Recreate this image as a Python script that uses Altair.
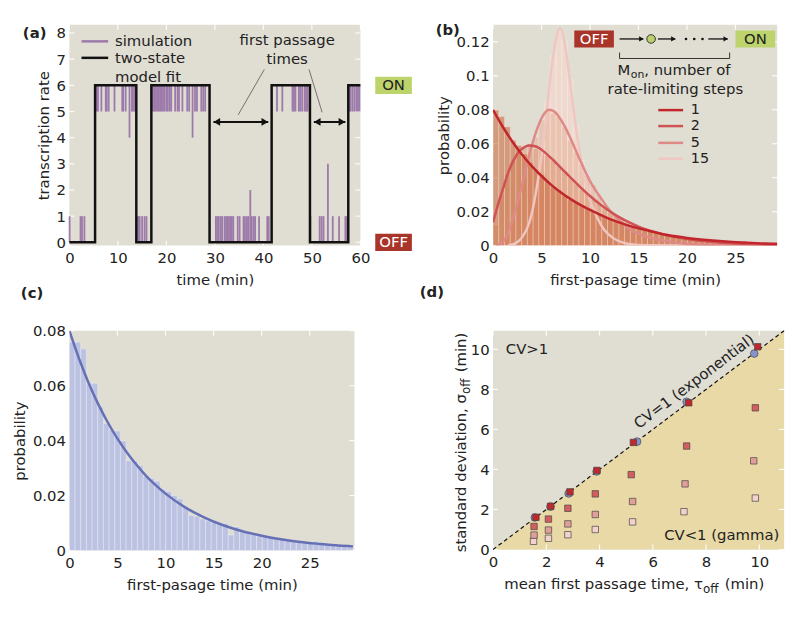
import altair as alt
import pandas as pd

FONT = "DejaVu Sans"
BG = "#e0ddd2"
INK = "#222222"
PURPLE = "#9c7aaa"
RECT = "M-1,-0.47L1,-0.47L1,0.47L-1,0.47Z"

# ---------------- panel (a) data ----------------
step_t = [0, 5.3, 13.8, 16.9, 28.9, 41.7, 49.6, 57.5, 60]
step_v = [0, 6, 0, 6, 0, 6, 0, 6, 6]
sim_on_t = [5.6, 5.9, 6.6, 7.5, 7.7, 8.1, 9.3, 10.9, 11.1, 11.6, 12.9, 13.1, 13.4,
            17.2, 17.5, 17.8, 18.1, 18.4, 18.7, 19.0, 19.3, 19.6, 20.0, 20.3, 20.7, 21.0,
            21.8, 22.3, 22.6, 23.3, 24.3, 24.7, 25.9, 26.3, 27.2, 27.6, 28.0,
            42.8, 43.9, 46.0, 46.3, 46.6, 47.3, 47.6, 48.0, 48.5, 48.8, 49.1,
            57.7, 58.0, 58.4, 58.8, 59.2, 59.5, 59.8]
sim_off_t = [0.05, 2.3, 2.6, 3.1, 13.9, 14.2, 14.5, 15.0, 15.5, 15.9,
             30.2, 30.5, 30.8, 31.2, 31.5, 32.0, 32.3, 32.6, 32.9, 33.2, 33.5, 33.8,
             34.7, 35.1, 35.9, 36.2, 36.6, 36.9, 37.6, 38.0, 38.3, 39.1, 40.8, 41.1,
             49.7, 51.6, 52.0, 52.4, 54.3, 55.6, 56.9, 57.2]
sim_tall_t = [12.4, 25.4, 37.3, 53.3]
sim_tall_lo = [4, 4, 0, 0]
sim_tall_hi = [6, 6, 2, 3]

# ---------------- panel (b) data ----------------
bin_w = 0.59
hist_m1 = [0.080, 0.076, 0.070, 0.062, 0.059, 0.054, 0.049, 0.045, 0.042, 0.038,
           0.035, 0.033, 0.030, 0.027, 0.026, 0.024, 0.022, 0.020, 0.019, 0.017,
           0.016, 0.014, 0.013, 0.012, 0.011, 0.010, 0.0094, 0.0086, 0.0080, 0.0072,
           0.0066, 0.0060, 0.0055, 0.0050, 0.0046, 0.0042, 0.0039, 0.0036, 0.0033, 0.0030,
           0.0028, 0.0026, 0.0024, 0.0022, 0.0020, 0.0019, 0.0017, 0.0016, 0.0015, 0.0014]
hist_m2 = [0.012, 0.030, 0.042, 0.050, 0.056, 0.058, 0.060, 0.057, 0.056, 0.053,
           0.051, 0.047, 0.044, 0.040, 0.037, 0.033, 0.031, 0.027, 0.025, 0.022,
           0.020, 0.018, 0.016, 0.014, 0.012, 0.011, 0.010, 0.009, 0.008, 0.007,
           0.006, 0.0055, 0.005, 0.0042, 0.0036, 0.0032, 0.0028, 0.0025, 0.0022, 0.0018,
           0.0016, 0.0014, 0.0012, 0.0010, 0.0009, 0.0008, 0.0007, 0.0006, 0.0005, 0.0004]
hist_m5 = [0.0, 0.001, 0.006, 0.016, 0.028, 0.040, 0.055, 0.064, 0.074, 0.080,
           0.078, 0.076, 0.070, 0.062, 0.055, 0.048, 0.041, 0.036, 0.030, 0.024,
           0.020, 0.016, 0.013, 0.011, 0.008, 0.007, 0.0055, 0.0045, 0.0036, 0.0028,
           0.0022, 0.0017, 0.0013, 0.0010, 0.0008, 0.0006, 0.0005, 0.0004, 0.0003, 0.0002,
           0.0002, 0.0001, 0.0001, 0.0001, 0.0, 0.0, 0.0, 0.0, 0.0, 0.0]
hist_m15 = [0.0, 0.0, 0.0, 0.001, 0.003, 0.006, 0.016, 0.032, 0.055, 0.085,
            0.112, 0.126, 0.121, 0.098, 0.071, 0.050, 0.034, 0.022, 0.014, 0.009,
            0.006, 0.0035, 0.002, 0.0012, 0.0007, 0.0004, 0.0002, 0.0001, 0.0, 0.0,
            0.0, 0.0, 0.0, 0.0, 0.0, 0.0, 0.0, 0.0, 0.0, 0.0,
            0.0, 0.0, 0.0, 0.0, 0.0, 0.0, 0.0, 0.0, 0.0, 0.0]
c1_x = [0, 1, 2, 3, 4, 5, 6, 7, 8, 9, 10, 12, 14, 16, 18, 20, 22, 24, 26, 28, 29.3]
c1_y = [0.0800, 0.0700, 0.0612, 0.0535, 0.0468, 0.0410, 0.0358, 0.0313, 0.0274, 0.0240,
        0.0210, 0.0158, 0.0118, 0.0088, 0.0062, 0.0045, 0.0033, 0.0024, 0.0018, 0.0013, 0.0011]
c2_x = [0, 0.5, 1, 1.5, 2, 2.5, 3, 3.7, 4.5, 5, 6, 7, 8, 9, 10, 11, 12, 13, 14, 15, 16, 18,
        20, 22, 25, 29.3]
c2_y = [0.0137, 0.024, 0.033, 0.042, 0.049, 0.054, 0.057, 0.0590, 0.0582, 0.0565, 0.0515,
        0.0458, 0.0400, 0.0345, 0.0292, 0.0245, 0.0204, 0.0168, 0.0138, 0.0112, 0.0091,
        0.0060, 0.0039, 0.0025, 0.0012, 0.0004]
c5_x = [0.3, 1, 1.5, 2, 2.5, 3, 3.5, 4, 4.5, 5, 5.8, 6.5, 7, 7.5, 8, 9, 10, 11, 12, 13, 14,
        15, 17, 20, 25, 29.3]
c5_y = [0.0, 0.002, 0.007, 0.015, 0.025, 0.036, 0.048, 0.059, 0.068, 0.075, 0.080, 0.078,
        0.074, 0.069, 0.063, 0.050, 0.038, 0.029, 0.021, 0.015, 0.010, 0.007, 0.0035,
        0.001, 0.0001, 0.0]
c15_x = [1.5, 2.5, 3, 3.5, 4, 4.5, 5, 5.5, 6, 6.5, 6.9, 7.3, 7.8, 8.3, 8.8, 9.5, 10, 10.7,
         11.5, 12.5, 14, 16, 20, 29.3]
c15_y = [0.0, 0.002, 0.005, 0.010, 0.019, 0.034, 0.053, 0.077, 0.103, 0.122, 0.128, 0.122,
         0.103, 0.080, 0.060, 0.038, 0.027, 0.017, 0.009, 0.004, 0.001, 0.0002, 0.0, 0.0]
mon_labels = ["1", "2", "5", "15"]
mon_colors = ["#c0262c", "#cf5255", "#df8a87", "#f0c6c1"]

# ---------------- panel (c) data ----------------
hist_c = [0.0759, 0.0759, 0.0734, 0.0609, 0.0609, 0.0522, 0.0462, 0.0440, 0.0435, 0.0399,
          0.0327, 0.0327, 0.0309, 0.0270, 0.0262, 0.0252, 0.0222, 0.0215, 0.0200, 0.0188,
          0.0160, 0.0128, 0.0125, 0.0115, 0.0108, 0.0104, 0.0096, 0.0098, 0.0056, 0.0086,
          0.0072, 0.0066, 0.0064, 0.0054, 0.0050, 0.0046, 0.0043, 0.0040, 0.0038, 0.0034,
          0.0032, 0.0030, 0.0030, 0.0034, 0.0026, 0.0024, 0.0022, 0.0020, 0.0018, 0.0016]
cc_x = [0, 1, 2, 3, 4, 5, 6, 7, 8, 9, 10, 12, 14, 16, 18, 20, 22, 24, 26, 28, 29.5]
cc_y = [0.0800, 0.0699, 0.0610, 0.0533, 0.0466, 0.0407, 0.0356, 0.0311, 0.0271, 0.0237,
        0.0207, 0.0158, 0.0121, 0.0092, 0.0070, 0.0054, 0.0041, 0.0031, 0.0024, 0.0018, 0.0015]

# ---------------- panel (d) data ----------------
circ_x = [1.57, 2.16, 2.84, 3.89, 5.41, 7.27, 9.81]
circ_y = [1.60, 2.14, 2.80, 3.90, 5.39, 7.38, 9.79]
sq_x = {"1": [1.61, 2.16, 2.89, 3.90, 5.27, 7.35, 9.94],
        "2": [1.54, 2.08, 2.81, 3.84, 5.19, 7.27, 9.85],
        "5": [1.54, 2.08, 2.81, 3.84, 5.24, 7.21, 9.79],
        "15": [1.52, 2.08, 2.81, 3.84, 5.24, 7.17, 9.85]}
sq_y = {"1": [1.61, 2.16, 2.88, 3.95, 5.35, 7.33, 10.13],
        "2": [1.15, 1.52, 2.06, 2.78, 3.74, 5.17, 7.08],
        "5": [0.72, 0.97, 1.28, 1.75, 2.40, 3.28, 4.43],
        "15": [0.41, 0.56, 0.74, 1.00, 1.38, 1.89, 2.57]}
sq_colors = {"1": "#c1272d", "2": "#d35e5f", "5": "#e29f99", "15": "#f3d2ce"}
diag = [0, 10.93]

# tick values
a_xt = [0, 10, 20, 30, 40, 50, 60]
a_yt = [0, 1, 2, 3, 4, 5, 6, 7, 8]
b_xt = [0, 5, 10, 15, 20, 25]
b_yt = [0, 0.02, 0.04, 0.06, 0.08, 0.1, 0.12]
c_yt = [0, 0.02, 0.04, 0.06, 0.08]
d_t = [0, 2, 4, 6, 8, 10]


def label(txt, x, y):
    return alt.Chart(pd.DataFrame({"t": [txt]})).mark_text(
        font=FONT, fontSize=15, fontWeight="bold", align="left", color=INK
    ).encode(x=alt.value(x), y=alt.value(y), text="t:N")


def hist_df(vals):
    return pd.DataFrame({"x": [i * bin_w for i in range(len(vals))],
                         "x2": [(i + 1) * bin_w for i in range(len(vals))],
                         "y": vals, "y0": [0.0] * len(vals)})


def inner_ticks(X, Y, xv, yv, W, H, L=5):
    xd = pd.DataFrame({"x": xv})
    yd = pd.DataFrame({"y": yv})
    m = dict(color="#ffffff", strokeWidth=1.2, opacity=0.9)
    return [
        alt.Chart(xd).mark_rule(**m).encode(x=X, y=alt.value(H), y2=alt.value(H - L)),
        alt.Chart(xd).mark_rule(**m).encode(x=X, y=alt.value(0), y2=alt.value(L)),
        alt.Chart(yd).mark_rule(**m).encode(y=Y, x=alt.value(0), x2=alt.value(L)),
        alt.Chart(yd).mark_rule(**m).encode(y=Y, x=alt.value(W), x2=alt.value(W - L)),
    ]


# ================= (a) =================
WA, HA = 294, 223
XA = alt.X("x:Q", scale=alt.Scale(domain=[0, 60], nice=False, zero=False),
           axis=alt.Axis(values=a_xt, title="time (min)"))
YA = alt.Y("y:Q", scale=alt.Scale(domain=[-0.125, 8.31], nice=False, zero=False),
           axis=alt.Axis(values=a_yt, title="transcription rate"))

sim_df = pd.DataFrame({
    "x": sim_on_t + sim_off_t + sim_tall_t,
    "y": [5] * len(sim_on_t) + [0] * len(sim_off_t) + sim_tall_lo,
    "y2": [6] * len(sim_on_t) + [1] * len(sim_off_t) + sim_tall_hi,
})
a_sim = alt.Chart(sim_df).mark_rule(color=PURPLE, strokeWidth=1.8).encode(x=XA, y=YA, y2="y2:Q")
a_step = alt.Chart(pd.DataFrame({"x": step_t, "y": step_v})).mark_line(
    interpolate="step-after", color="#111", strokeWidth=2.5).encode(x=XA, y=YA)
a_arr = alt.Chart(pd.DataFrame({"x": [29.7, 50.4], "x2": [41.0, 56.9], "y": [4.6, 4.6]})).mark_rule(
    color="#111", strokeWidth=2).encode(x=XA, x2="x2:Q", y=YA)
a_heads = alt.Chart(pd.DataFrame({"x": [30.4, 40.3, 51.1, 56.2], "y": [4.6] * 4,
                                  "s": ["triangle-left", "triangle-right"] * 2})).mark_point(
    filled=True, color="#111", size=60, opacity=1).encode(x=XA, y=YA, shape=alt.Shape("s:N", scale=None))
a_lead = alt.Chart(pd.DataFrame({"x": [34.8, 52.1], "y": [4.87, 4.97], "x2": [40.2, 49.4],
                                 "y2": [6.61, 6.61]})).mark_rule(color="#555", strokeWidth=0.8).encode(
    x=XA, y=YA, x2="x2:Q", y2="y2:Q")
a_txtc = alt.Chart(pd.DataFrame({"x": [44.9, 44.9], "y": [7.72, 6.99],
                                 "t": ["first passage", "times"]})).mark_text(
    font=FONT, fontSize=15, color=INK).encode(x=XA, y=YA, text="t:N")
a_leg = alt.Chart(pd.DataFrame({"x": [2.5, 2.5], "x2": [8.0, 8.0], "y": [7.68, 7.05],
                                "c": [PURPLE, "#111"]})).mark_rule(strokeWidth=2.5).encode(
    x=XA, x2="x2:Q", y=YA, color=alt.Color("c:N", scale=None))
a_legt = alt.Chart(pd.DataFrame({"x": [9.4] * 3, "y": [7.68, 7.05, 6.33],
                                 "t": ["simulation", "two-state", "model fit"]})).mark_text(
    font=FONT, fontSize=15, align="left", color=INK).encode(x=XA, y=YA, text="t:N")
onoff = pd.DataFrame({"y": [6, 0], "f": ["#bdd36b", "#a8342a"], "t": ["ON", "OFF"],
                      "tc": ["#222222", "#ffffff"]})
a_box = alt.Chart(onoff).mark_point(shape=RECT, filled=True, size=1369, opacity=1, strokeWidth=0).encode(
    x=alt.value(WA + 33.5), y=YA, color=alt.Color("f:N", scale=None))
a_boxt = alt.Chart(onoff).mark_text(font=FONT, fontSize=15).encode(
    x=alt.value(WA + 33.5), y=YA, text="t:N", color=alt.Color("tc:N", scale=None))
panel_a = alt.layer(*inner_ticks(XA, YA, a_xt, a_yt, WA, HA),
                    a_sim, a_step, a_arr, a_heads, a_lead, a_txtc, a_leg, a_legt, a_box, a_boxt,
                    label("(a)", -47, 8)).properties(width=WA, height=HA)

# ================= (b) =================
WB, HB = 287, 223
XB = alt.X("x:Q", scale=alt.Scale(domain=[0, 29.3], nice=False, zero=False),
           axis=alt.Axis(values=b_xt, title="first-pasage time (min)"))
YB = alt.Y("y:Q", scale=alt.Scale(domain=[0, 0.13], nice=False),
           axis=alt.Axis(values=b_yt, format=".2~f", title="probability"))

b_layers = inner_ticks(XB, YB, b_xt, b_yt, WB, HB)
for vals, col, op in [(hist_m15, "#f6d8cd", 0.7), (hist_m5, "#e8ad93", 0.5),
                      (hist_m2, "#dc9470", 0.5), (hist_m1, "#cc6f44", 0.6)]:
    b_layers.append(alt.Chart(hist_df(vals)).mark_bar(
        color=col, opacity=op, stroke="#ffffff", strokeWidth=0.5, strokeOpacity=0.6, clip=True).encode(
        x=XB, x2="x2:Q", y=YB, y2="y0:Q"))
for cx, cy, col in [(c15_x, c15_y, mon_colors[3]), (c5_x, c5_y, mon_colors[2]),
                    (c2_x, c2_y, mon_colors[1]), (c1_x, c1_y, mon_colors[0])]:
    b_layers.append(alt.Chart(pd.DataFrame({"x": cx, "y": cy})).mark_line(
        color=col, strokeWidth=2.5, interpolate="monotone", clip=True).encode(x=XB, y=YB))

yb_row = 0.1217
boxes_b = pd.DataFrame({"x": [10.42, 27.05], "y": [yb_row, yb_row], "f": ["#a8342a", "#bdd36b"],
                        "t": ["OFF", "ON"], "tc": ["#ffffff", "#222222"]})
b_layers.append(alt.Chart(boxes_b).mark_point(shape="M-1,-0.43L1,-0.43L1,0.43L-1,0.43Z", filled=True,
                                              size=1600, opacity=1, strokeWidth=0).encode(
    x=XB, y=YB, color=alt.Color("f:N", scale=None)))
b_layers.append(alt.Chart(boxes_b).mark_text(font=FONT, fontSize=15).encode(
    x=XB, y=YB, text="t:N", color=alt.Color("tc:N", scale=None)))
b_layers.append(alt.Chart(pd.DataFrame({"x": [13.05, 17.0, 22.2], "x2": [15.5, 18.8, 24.2],
                                        "y": [yb_row] * 3})).mark_rule(color="#111", strokeWidth=1.3).encode(
    x=XB, x2="x2:Q", y=YB))
b_layers.append(alt.Chart(pd.DataFrame({"x": [15.3, 18.6, 24.0], "y": [yb_row] * 3})).mark_point(
    shape="triangle-right", filled=True, color="#111", size=28, opacity=1).encode(x=XB, y=YB))
b_layers.append(alt.Chart(pd.DataFrame({"x": [16.3], "y": [yb_row]})).mark_point(
    shape="circle", filled=True, color="#b9d06b", stroke="#333", strokeWidth=1, size=75, opacity=1).encode(
    x=XB, y=YB))
b_layers.append(alt.Chart(pd.DataFrame({"x": [19.9, 20.75, 21.6], "y": [yb_row] * 3})).mark_point(
    shape="circle", filled=True, color="#111", size=7, opacity=1).encode(x=XB, y=YB))
b_layers.append(alt.Chart(pd.DataFrame({"x": [13.05, 13.05, 24.4], "x2": [24.4, 13.05, 24.4],
                                        "y": [0.1102] * 3, "y2": [0.1102, 0.1137, 0.1137]})).mark_rule(
    color="#333", strokeWidth=1).encode(x=XB, x2="x2:Q", y=YB, y2="y2:Q"))
mon_df = pd.DataFrame({"x": [14.16], "y": [0.1032], "t": ["M"]})
b_layers.append(alt.Chart(mon_df).mark_text(font=FONT, fontSize=15, align="right", color=INK).encode(
    x=XB, y=YB, text="t:N"))
b_layers.append(alt.Chart(pd.DataFrame({"x": [14.16], "y": [0.1032], "t": ["on"]})).mark_text(
    font=FONT, fontSize=11, align="left", dx=0.5, dy=5, color=INK).encode(x=XB, y=YB, text="t:N"))
b_layers.append(alt.Chart(pd.DataFrame({"x": [14.16], "y": [0.1032], "t": [", number of"]})).mark_text(
    font=FONT, fontSize=15, align="left", dx=14, color=INK).encode(x=XB, y=YB, text="t:N"))
b_layers.append(alt.Chart(pd.DataFrame({"x": [18.8], "y": [0.0921], "t": ["rate-limiting steps"]})).mark_text(
    font=FONT, fontSize=15, color=INK).encode(x=XB, y=YB, text="t:N"))
leg_y = [0.0798, 0.0704, 0.0605, 0.0511]
b_layers.append(alt.Chart(pd.DataFrame({"x": [17.04] * 4, "x2": [19.6] * 4, "y": leg_y,
                                        "c": mon_colors})).mark_rule(strokeWidth=2.5).encode(
    x=XB, x2="x2:Q", y=YB, color=alt.Color("c:N", scale=None)))
b_layers.append(alt.Chart(pd.DataFrame({"x": [20.4] * 4, "y": leg_y, "t": mon_labels})).mark_text(
    font=FONT, fontSize=14.5, align="left", color=INK).encode(x=XB, y=YB, text="t:N"))
b_layers.append(label("(b)", -58, 5))
panel_b = alt.layer(*b_layers).properties(width=WB, height=HB)

# ================= (c) =================
WC, HC = 288, 222
XC = alt.X("x:Q", scale=alt.Scale(domain=[0, 29.65], nice=False, zero=False),
           axis=alt.Axis(values=b_xt, title="first-pasage time (min)"))
YC = alt.Y("y:Q", scale=alt.Scale(domain=[0, 0.08], nice=False),
           axis=alt.Axis(values=c_yt, format=".2~f", title="probability"))
c_bars = alt.Chart(hist_df(hist_c)).mark_bar(color="#bcc3e2", stroke="#ffffff", strokeWidth=0.5,
                                             strokeOpacity=0.6, clip=True).encode(
    x=XC, x2="x2:Q", y=YC, y2="y0:Q")
c_line = alt.Chart(pd.DataFrame({"x": cc_x, "y": cc_y})).mark_line(
    color="#6670b5", strokeWidth=2.5, interpolate="monotone", clip=True).encode(x=XC, y=YC)
panel_c = alt.layer(*inner_ticks(XC, YC, b_xt, c_yt, WC, HC),
                    c_bars, c_line, label("(c)", -49, -38)).properties(width=WC, height=HC)

# ================= (d) =================
WD, HD = 294, 221
XD = alt.X("x:Q", scale=alt.Scale(domain=[0, 10.93], nice=False),
           axis=alt.Axis(values=d_t, title=None))
YD = alt.Y("y:Q", scale=alt.Scale(domain=[0, 10.93], nice=False),
           axis=alt.Axis(values=d_t, title=None))
diag_df = pd.DataFrame({"x": diag, "y": diag})
d_area = alt.Chart(diag_df).mark_area(color="#e8d9a6", opacity=1).encode(x=XD, y=YD)
d_line = alt.Chart(diag_df).mark_line(color="#111", strokeWidth=1.2, strokeDash=[4, 3]).encode(x=XD, y=YD)
d_circ = alt.Chart(pd.DataFrame({"x": circ_x, "y": circ_y})).mark_point(
    shape="circle", filled=True, color="#8595cc", stroke="#555", strokeWidth=0.8, size=60, opacity=1).encode(
    x=XD, y=YD)
sq_rows = []
for k in ["15", "5", "2", "1"]:
    for xx, yy in zip(sq_x[k], sq_y[k]):
        sq_rows.append({"x": xx, "y": yy, "c": sq_colors[k]})
d_sq = alt.Chart(pd.DataFrame(sq_rows)).mark_point(
    shape="square", filled=True, stroke="#444", strokeWidth=0.7, size=42, opacity=1).encode(
    x=XD, y=YD, color=alt.Color("c:N", scale=None))
d_t1 = alt.Chart(pd.DataFrame({"x": [0.48], "y": [10.0], "t": ["CV>1"]})).mark_text(
    font=FONT, fontSize=15, align="left", color=INK).encode(x=XD, y=YD, text="t:N")
d_t2 = alt.Chart(pd.DataFrame({"x": [10.75], "y": [0.74], "t": ["CV<1 (gamma)"]})).mark_text(
    font=FONT, fontSize=15, align="right", color=INK).encode(x=XD, y=YD, text="t:N")
d_t3 = alt.Chart(pd.DataFrame({"x": [7.55], "y": [8.4], "t": ["CV=1 (exponential)"]})).mark_text(
    font=FONT, fontSize=15, angle=323, color=INK).encode(x=XD, y=YD, text="t:N")
one = pd.DataFrame({"t": ["mean first passage time, τ"]})
d_xt1 = alt.Chart(one).mark_text(font=FONT, fontSize=15, align="right", color=INK).encode(
    x=alt.value(212), y=alt.value(256), text="t:N")
d_xt2 = alt.Chart(pd.DataFrame({"t": ["off"]})).mark_text(
    font=FONT, fontSize=12, align="left", dy=5, color=INK).encode(x=alt.value(212), y=alt.value(256), text="t:N")
d_xt3 = alt.Chart(pd.DataFrame({"t": ["(min)"]})).mark_text(
    font=FONT, fontSize=15, align="left", color=INK).encode(x=alt.value(234), y=alt.value(256), text="t:N")
d_yt1 = alt.Chart(pd.DataFrame({"t": ["standard deviation, σ"]})).mark_text(
    font=FONT, fontSize=15, align="right", angle=270, color=INK).encode(
    x=alt.value(-32), y=alt.value(64), text="t:N")
d_yt2 = alt.Chart(pd.DataFrame({"t": ["off"]})).mark_text(
    font=FONT, fontSize=12, align="left", angle=270, dy=5, color=INK).encode(
    x=alt.value(-32), y=alt.value(64), text="t:N")
d_yt3 = alt.Chart(pd.DataFrame({"t": ["(min)"]})).mark_text(
    font=FONT, fontSize=15, align="left", angle=270, color=INK).encode(
    x=alt.value(-32), y=alt.value(42), text="t:N")
panel_d = alt.layer(d_area, *inner_ticks(XD, YD, d_t, d_t, WD, HD),
                    d_line, d_circ, d_sq, d_t1, d_t2, d_t3, d_xt1, d_xt2, d_xt3,
                    d_yt1, d_yt2, d_yt3, label("(d)", -74, -39)).properties(width=WD, height=HD)

chart = alt.concat(panel_a, panel_b, panel_c, panel_d, columns=2,
                   spacing={"row": 86, "column": 134}, bounds="flush").properties(
    padding={"left": 4, "top": 12, "right": 5, "bottom": 5}
).configure_view(fill=BG, strokeWidth=0).configure_axis(
    domain=False, ticks=False, grid=False, labelFont=FONT, titleFont=FONT, labelFontSize=15,
    titleFontSize=15, titleFontWeight="normal", labelColor=INK, titleColor=INK,
    labelPadding=4, titlePadding=5, labelFlush=False
).configure_axisX(titlePadding=7, labelPadding=5).configure_text(font=FONT)

chart.save("out.html", embed_options={"renderer": "svg", "actions": False})
